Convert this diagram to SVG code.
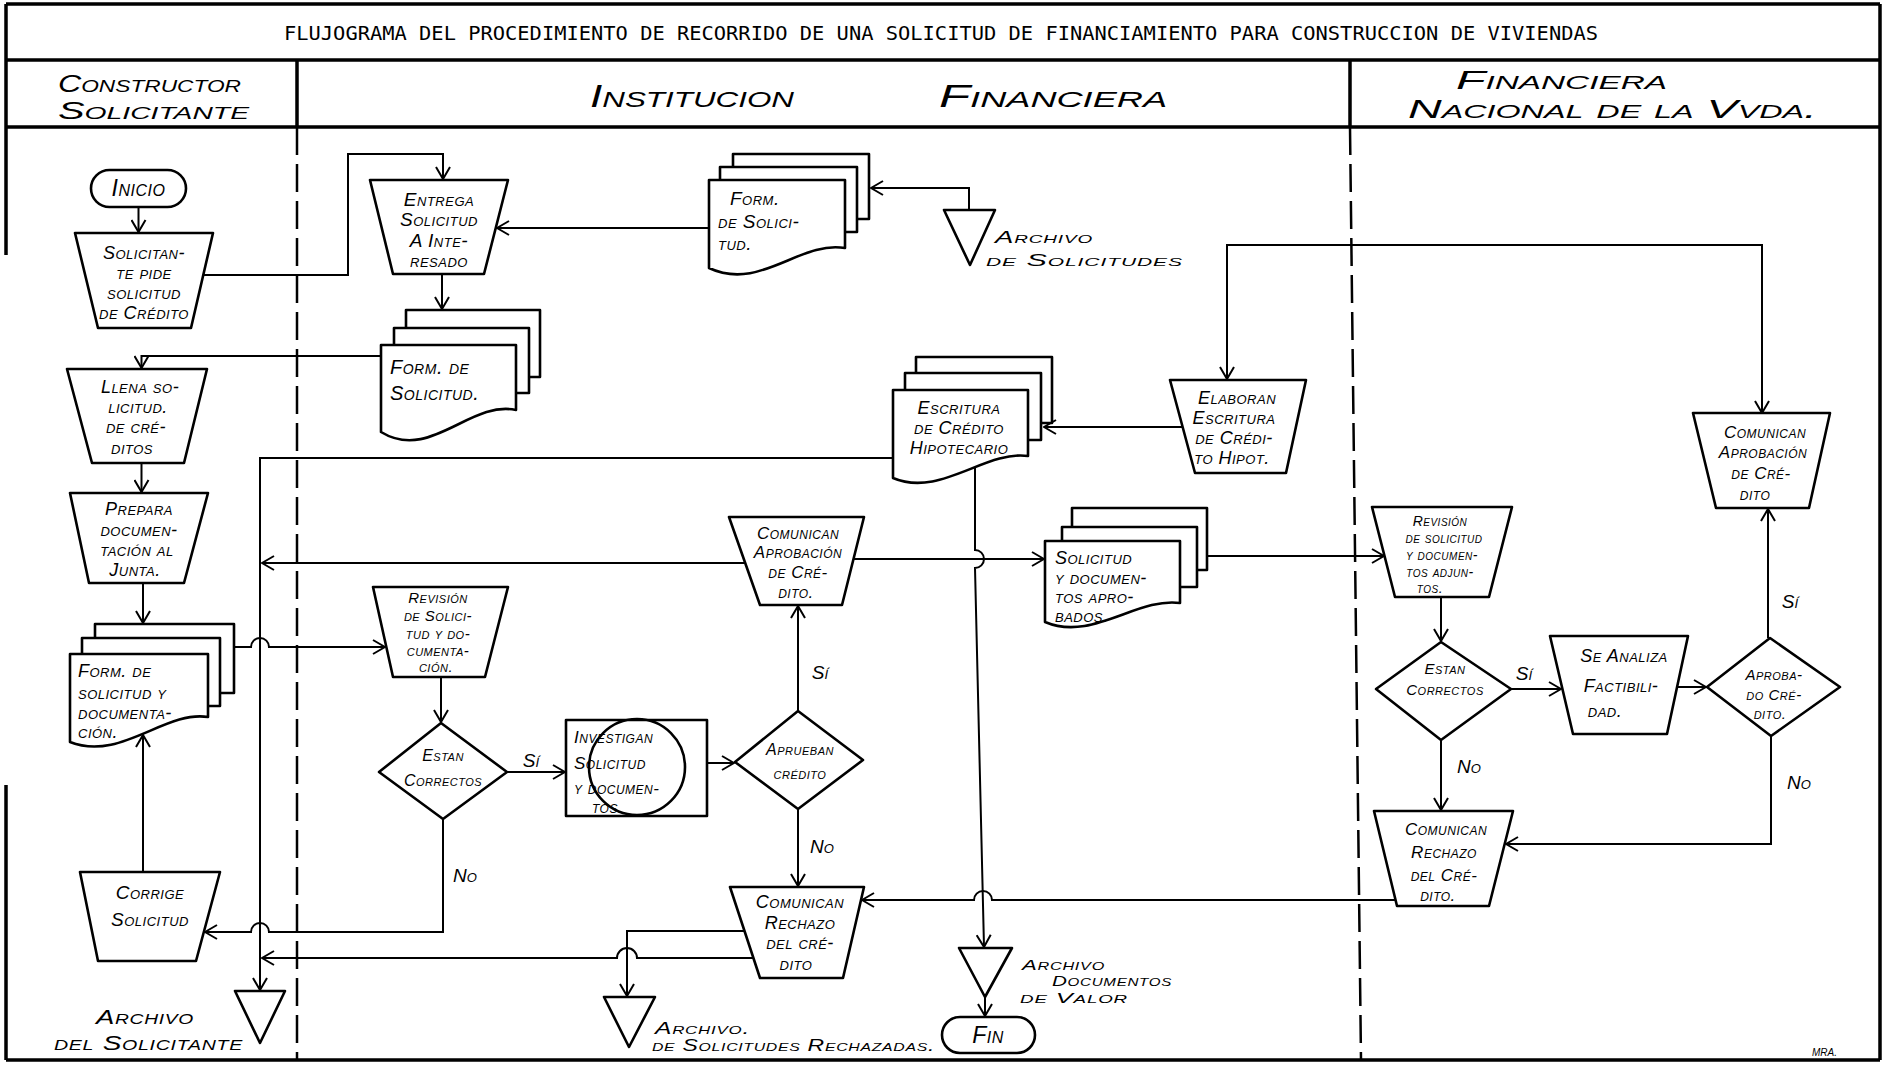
<svg xmlns="http://www.w3.org/2000/svg" width="1887" height="1068" viewBox="0 0 1887 1068">
<defs>
<style>
.s{fill:none;stroke:#000;stroke-width:2.6;stroke-linejoin:round}
.f{fill:none;stroke:#000;stroke-width:3.5}
.t{font-family:"Liberation Sans","DejaVu Sans",sans-serif;font-style:italic;font-variant:small-caps;font-size:18px;letter-spacing:0.5px;text-anchor:middle;fill:#000}
.ts{font-family:"Liberation Sans","DejaVu Sans",sans-serif;font-style:italic;font-variant:small-caps;font-size:18px;letter-spacing:0.5px;text-anchor:start;fill:#000}
.hd{font-family:"Liberation Sans","DejaVu Sans",sans-serif;font-style:italic;font-variant:small-caps;font-size:27px;fill:#000}
.lb{font-family:"Liberation Sans","DejaVu Sans",sans-serif;font-style:italic;font-variant:small-caps;font-size:19px;text-anchor:middle;fill:#000}
</style>
<marker id="ah" viewBox="0 0 14 16" refX="13" refY="8" markerWidth="14" markerHeight="16" markerUnits="userSpaceOnUse" orient="auto-start-reverse"><path d="M1,1 L13,8 L1,15" fill="none" stroke="#000" stroke-width="2"/></marker>
</defs>
<rect width="1887" height="1068" fill="#fff"/>

<g id="frame">
<path class="f" d="M6,4 H1880 M6,60 H1880 M6,127 H1880 M6,1060 H1880 M1880,4 V1060 M6,4 V255 M6,785 V1060 M297,60 V127 M1350,60 V127"/>
<path d="M297,127 V1060 M1350,127 L1361,1060" fill="none" stroke="#000" stroke-width="2.5" stroke-dasharray="28 9"/>
<text x="941" y="40" font-family="'DejaVu Sans Mono','Liberation Mono',monospace" font-size="20" text-anchor="middle" textLength="1314" lengthAdjust="spacingAndGlyphs">FLUJOGRAMA DEL PROCEDIMIENTO DE RECORRIDO DE UNA SOLICITUD DE FINANCIAMIENTO PARA CONSTRUCCION DE VIVIENDAS</text>
<text class="hd" x="58" y="92" style="font-size:24px" textLength="183" lengthAdjust="spacingAndGlyphs">Constructor</text>
<text class="hd" x="58" y="119" style="font-size:24px" textLength="191" lengthAdjust="spacingAndGlyphs">Solicitante</text>
<text class="hd" x="590" y="107" style="font-size:31px" textLength="204" lengthAdjust="spacingAndGlyphs">Institucion</text>
<text class="hd" x="939" y="107" style="font-size:31px" textLength="228" lengthAdjust="spacingAndGlyphs">Financiera</text>
<text class="hd" x="1456" y="89" style="font-size:26px" textLength="211" lengthAdjust="spacingAndGlyphs">Financiera</text>
<text class="hd" x="1408" y="118" style="font-size:26px" textLength="409" lengthAdjust="spacingAndGlyphs">Nacional de la Vvda.</text>
<text x="1812" y="1056" font-family="'Liberation Sans',sans-serif" font-style="italic" font-size="10">MRA.</text>
</g>

<g id="n-inicio"><rect class="s" x="91" y="170" width="95" height="37" rx="18.5"/><text class="t" x="138.5" y="196" style="font-size:23px">Inicio</text></g>
<g id="n-solicita"><polygon class="s" points="75,233 213,233 191,328 98,328"/><text class="t"><tspan x="144" y="259">Solicitan-</tspan><tspan x="144" y="279">te pide</tspan><tspan x="144" y="299">solicitud</tspan><tspan x="144" y="319">de Crédito</tspan></text></g>
<g id="n-entrega"><polygon class="s" points="370,180 508,180 484,274 393,274"/><text class="t" style="font-size:19px"><tspan x="439" y="206">Entrega</tspan><tspan x="439" y="226">Solicitud</tspan><tspan x="439" y="247">A Inte-</tspan><tspan x="439" y="267">resado</tspan></text></g>
<g id="n-form1"><path class="s" d="M406,328 V310 H540 V377 H529 M394,345 V328 H529 V393 H516 M381,345 H516 V410 C470,400 430,462 381,432 Z"/><text class="ts" style="font-size:20px"><tspan x="390" y="374">Form. de</tspan><tspan x="390" y="400">Solicitud.</tspan></text></g>
<g id="n-formtop"><path class="s" d="M733,167 V154 H869 V219 H857 M720,180 V167 H857 V232 H845 M709,180 H845 V248 C800,240 760,292 709,268 Z"/><text class="ts" style="font-size:19px"><tspan x="730" y="205">Form.</tspan><tspan x="718" y="228">de Solici-</tspan><tspan x="718" y="250">tud.</tspan></text></g>
<g id="n-arch-sol"><polygon class="s" points="944,210 995,210 970,265"/><text class="ts" style="font-size:16px"><tspan x="995" y="243" textLength="98" lengthAdjust="spacingAndGlyphs">Archivo</tspan><tspan x="986" y="266" textLength="197" lengthAdjust="spacingAndGlyphs">de Solicitudes</tspan></text></g>
<g id="n-llena"><polygon class="s" points="67,369 207,369 184,463 92,463"/><text class="t"><tspan x="140" y="393">Llena so-</tspan><tspan x="138" y="413">licitud.</tspan><tspan x="136" y="433">de cré-</tspan><tspan x="132" y="454">ditos</tspan></text></g>
<g id="n-prepara"><polygon class="s" points="70,493 208,493 184,583 89,583"/><text class="t"><tspan x="139" y="515">Prepara</tspan><tspan x="139" y="536">documen-</tspan><tspan x="137" y="556">tación al</tspan><tspan x="135" y="576">Junta.</tspan></text></g>
<g id="n-form2"><path class="s" d="M95,638 V624 H234 V693 H220 M82,654 V638 H220 V706 H208 M70,654 H208 V717 C165,710 120,762 70,742 Z"/><text class="ts"><tspan x="78" y="677">Form. de</tspan><tspan x="78" y="699">solicitud y</tspan><tspan x="78" y="719">documenta-</tspan><tspan x="78" y="738">ción.</tspan></text></g>
<g id="n-corrige"><polygon class="s" points="80,872 220,872 196,961 98,961"/><text class="t" style="font-size:19px"><tspan x="150" y="899">Corrige</tspan><tspan x="150" y="926">Solicitud</tspan></text></g>
<g id="n-arch-solicitante"><polygon class="s" points="235,991 285,991 260,1043"/><text class="ts" style="font-size:20px"><tspan x="96" y="1024" textLength="98" lengthAdjust="spacingAndGlyphs">Archivo</tspan><tspan x="54" y="1050" textLength="189" lengthAdjust="spacingAndGlyphs">del Solicitante</tspan></text></g>
<g id="n-revision1"><polygon class="s" points="373,587 508,587 485,677 393,677"/><text class="t" style="font-size:15px"><tspan x="438" y="603">Revisión</tspan><tspan x="438" y="621">de Solici-</tspan><tspan x="438" y="639">tud y do-</tspan><tspan x="438" y="656">cumenta-</tspan><tspan x="436" y="672">ción.</tspan></text></g>
<g id="n-estan1"><polygon class="s" points="441,723 507,772 443,819 379,772"/><text class="t" style="font-size:16px"><tspan x="443" y="761">Estan</tspan><tspan x="443" y="786">Correctos</tspan></text></g>
<g id="n-investigan"><rect class="s" x="566" y="720" width="141" height="96"/><ellipse class="s" cx="637" cy="767" rx="48" ry="48"/><text class="ts" style="font-size:17px"><tspan x="574" y="743">Investigan</tspan><tspan x="574" y="769">Solicitud</tspan><tspan x="574" y="794">y documen-</tspan><tspan x="592" y="813">tos.</tspan></text></g>
<g id="n-aprueban"><polygon class="s" points="798,711 863,760 798,809 735,762"/><text class="t" style="font-size:16px"><tspan x="800" y="755">Aprueban</tspan><tspan x="800" y="779">crédito</tspan></text></g>
<g id="n-com-aprob1"><polygon class="s" points="729,517 864,517 842,605 760,605"/><text class="t" style="font-size:17px"><tspan x="798" y="539">Comunican</tspan><tspan x="798" y="558">Aprobación</tspan><tspan x="798" y="578">de Cré-</tspan><tspan x="796" y="598">dito.</tspan></text></g>
<g id="n-com-rech1"><polygon class="s" points="730,887 864,887 843,978 760,978"/><text class="t"><tspan x="800" y="908">Comunican</tspan><tspan x="800" y="929">Rechazo</tspan><tspan x="800" y="949">del cré-</tspan><tspan x="796" y="970">dito</tspan></text></g>
<g id="n-arch-rech"><polygon class="s" points="604,997 655,997 629,1047"/><text class="ts" style="font-size:16px"><tspan x="655" y="1034" textLength="95" lengthAdjust="spacingAndGlyphs">Archivo.</tspan><tspan x="652" y="1051" textLength="283" lengthAdjust="spacingAndGlyphs">de Solicitudes Rechazadas.</tspan></text></g>
<g id="n-escritura"><path class="s" d="M916,373 V357 H1052 V423 H1041 M905,390 V373 H1041 V440 H1028 M893,390 H1028 V456 C985,450 940,498 893,478 Z"/><text class="t"><tspan x="959" y="414">Escritura</tspan><tspan x="959" y="434">de Crédito</tspan><tspan x="959" y="454">Hipotecario</tspan></text></g>
<g id="n-arch-valor"><polygon class="s" points="959,948 1012,948 985,997"/><text class="ts" style="font-size:15px"><tspan x="1022" y="970" textLength="83" lengthAdjust="spacingAndGlyphs">Archivo</tspan><tspan x="1052" y="986" textLength="120" lengthAdjust="spacingAndGlyphs">Documentos</tspan><tspan x="1020" y="1003" textLength="108" lengthAdjust="spacingAndGlyphs">de Valor</tspan></text></g>
<g id="n-fin"><rect class="s" x="942" y="1017" width="93" height="36" rx="18"/><text class="t" x="988" y="1043" style="font-size:23px">Fin</text></g>
<g id="n-elaboran"><polygon class="s" points="1170,380 1306,380 1286,473 1195,473"/><text class="t"><tspan x="1237" y="404">Elaboran</tspan><tspan x="1234" y="424">Escritura</tspan><tspan x="1234" y="444">de Crédi-</tspan><tspan x="1232" y="464">to Hipot.</tspan></text></g>
<g id="n-sol-aprob"><path class="s" d="M1072,527 V508 H1207 V570 H1197 M1062,541 V527 H1197 V587 H1180 M1045,541 H1180 V603 C1137,597 1092,642 1045,622 Z"/><text class="ts"><tspan x="1055" y="564">Solicitud</tspan><tspan x="1055" y="584">y documen-</tspan><tspan x="1055" y="603">tos apro-</tspan><tspan x="1055" y="622">bados.</tspan></text></g>
<g id="n-revision2"><polygon class="s" points="1372,507 1512,507 1489,597 1395,597"/><text class="t" style="font-size:14px"><tspan x="1440" y="526">Revisión</tspan><tspan x="1444" y="543">de solicitud</tspan><tspan x="1442" y="560">y documen-</tspan><tspan x="1440" y="577">tos adjun-</tspan><tspan x="1430" y="593">tos.</tspan></text></g>
<g id="n-estan2"><polygon class="s" points="1441,642 1511,689 1441,740 1376,689"/><text class="t" style="font-size:15px"><tspan x="1445" y="674">Estan</tspan><tspan x="1445" y="695">Correctos</tspan></text></g>
<g id="n-analiza"><polygon class="s" points="1550,636 1688,636 1667,734 1573,734"/><text class="t"><tspan x="1624" y="662">Se Analiza</tspan><tspan x="1621" y="692">Factibili-</tspan><tspan x="1605" y="717">dad.</tspan></text></g>
<g id="n-aprobado"><polygon class="s" points="1770,638 1840,687 1771,736 1707,687"/><text class="t" style="font-size:15px"><tspan x="1774" y="680">Aproba-</tspan><tspan x="1774" y="700">do Cré-</tspan><tspan x="1770" y="719">dito.</tspan></text></g>
<g id="n-com-aprob2"><polygon class="s" points="1693,413 1830,413 1809,508 1716,508"/><text class="t" style="font-size:17px"><tspan x="1765" y="438">Comunican</tspan><tspan x="1763" y="458">Aprobación</tspan><tspan x="1761" y="479">de Cré-</tspan><tspan x="1755" y="500">dito</tspan></text></g>
<g id="n-com-rech2"><polygon class="s" points="1374,811 1513,811 1489,906 1397,906"/><text class="t" style="font-size:17px"><tspan x="1446" y="835">Comunican</tspan><tspan x="1444" y="858">Rechazo</tspan><tspan x="1444" y="881">del Cré-</tspan><tspan x="1438" y="901">dito.</tspan></text></g>

<g id="connectors" fill="none" stroke="#000" stroke-width="2" marker-end="url(#ah)">
<path d="M138.5,207 V232"/>
<path d="M204,275 H348 V154 H443 V179"/>
<path d="M709,228 H497"/>
<path d="M969,210 V188 H871"/>
<path d="M442,274 V309"/>
<path d="M381,356 H141.5 V368"/>
<path d="M141.5,463 V492"/>
<path d="M143,583 V623"/>
<path d="M234,647 H251 A9,9 0 0 1 269,647 H385"/>
<path d="M441,677 V722"/>
<path d="M507,772 H565"/>
<path d="M443,819 V932 H269 A9,9 0 0 0 251,932 H205"/>
<path d="M143,872 V735"/>
<path d="M707,763 H734"/>
<path d="M798,711 V606"/>
<path d="M798,809 V886"/>
<path d="M745,563 H262"/>
<path d="M853,559 H1044"/>
<path d="M893,458 H260 V990"/>
<path d="M975,467 V550 A9,9 0 0 1 975,568 L984,947"/>
<path d="M985,997 V1016"/>
<path d="M1183,427 H1044"/>
<path d="M1762,413 V245 H1227 V379" marker-start="url(#ah)"/>
<path d="M1207,556 H1384"/>
<path d="M1441,597 V641"/>
<path d="M1511,689 H1561"/>
<path d="M1677,687 H1706"/>
<path d="M1768,638 V509"/>
<path d="M1771,736 V844 H1506"/>
<path d="M1441,740 V810"/>
<path d="M1396,900 H992 A9,9 0 0 0 974,900 H862"/>
<path d="M745,931 H627 V996"/>
<path d="M753,958 H637 A10,10 0 0 0 617,958 H262"/>
</g>
<g id="labels">
<text class="lb" x="531" y="767">Sí</text>
<text class="lb" x="820" y="679">Sí</text>
<text class="lb" x="465" y="882">No</text>
<text class="lb" x="822" y="853">No</text>
<text class="lb" x="1524" y="680">Sí</text>
<text class="lb" x="1469" y="773">No</text>
<text class="lb" x="1790" y="608">Sí</text>
<text class="lb" x="1799" y="789">No</text>
</g>
</svg>
